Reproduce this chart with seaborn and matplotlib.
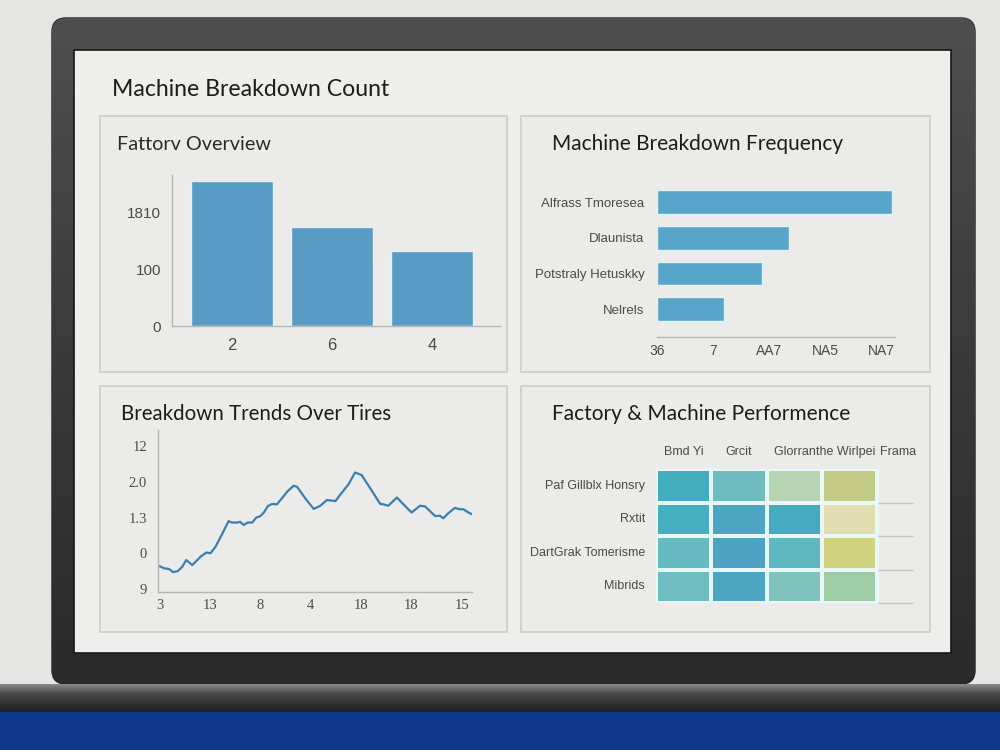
import numpy as np
import pandas as pd
import matplotlib
matplotlib.use("Agg")
import matplotlib.pyplot as plt
import seaborn as sns
from matplotlib.patches import FancyBboxPatch, Rectangle
from matplotlib.colors import LinearSegmentedColormap

# ---------------- data ----------------
main_title = "Machine Breakdown Count"

overview_title = "Fattorv Overview"
overview_labels = ["2", "6", "4"]
overview_values = [254, 174, 132]
overview_yticks = [0, 100, 200]
overview_yticklabels = ["0", "100", "1810"]

freq_title = "Machine Breakdown Frequency"
freq_labels = ["Alfrass Tmoresea", "Dlaunista", "Potstraly Hetuskky", "Nelrels"]
freq_values = [4.2, 2.36, 1.88, 1.2]
freq_xticks = [0, 1, 2, 3, 4]
freq_xticklabels = ["36", "7", "AA7", "NA5", "NA7"]

trend_title = "Breakdown Trends Over Tires"
trend_x = [0.0, 0.09, 0.19, 0.27, 0.36, 0.45, 0.53, 0.65, 0.75, 0.81, 0.93, 1.01,
           1.11, 1.24, 1.37, 1.44, 1.54, 1.60, 1.67, 1.75, 1.84, 1.92, 2.00, 2.07,
           2.15, 2.23, 2.33, 2.43, 2.53, 2.66, 2.73, 2.89, 3.06, 3.19, 3.32, 3.49,
           3.58, 3.75, 3.88, 4.01, 4.18, 4.38, 4.44, 4.54, 4.71, 4.84, 5.00, 5.17,
           5.27, 5.47, 5.56, 5.63, 5.73, 5.86, 5.96, 6.03, 6.13, 6.26]
trend_y = [0.64, 0.58, 0.56, 0.47, 0.50, 0.62, 0.81, 0.67, 0.81, 0.90, 1.02, 1.00,
           1.18, 1.53, 1.90, 1.86, 1.86, 1.88, 1.79, 1.86, 1.86, 2.00, 2.04, 2.14,
           2.32, 2.38, 2.37, 2.54, 2.72, 2.89, 2.86, 2.54, 2.24, 2.33, 2.49, 2.46,
           2.63, 2.93, 3.26, 3.19, 2.82, 2.38, 2.37, 2.33, 2.56, 2.37, 2.14, 2.33,
           2.31, 2.04, 2.05, 1.98, 2.12, 2.27, 2.23, 2.23, 2.14, 2.05]
trend_xticks = [0, 1, 2, 3, 4, 5, 6]
trend_xticklabels = ["3", "13", "8", "4", "18", "18", "15"]
trend_yticks = [0, 1, 2, 3, 4]
trend_yticklabels = ["9", "0", "1.3", "2.0", "12"]

perf_title = "Factory & Machine Performence"
perf_rows = ["Paf Gillblx Honsry", "Rxtit", "DartGrak Tomerisme", "Mibrids"]
perf_cols = ["Bmd Yi", "Grcit", "Glorranthe Wirlpei", "Frama"]
perf_c1 = [0.15, 0.16, 0.32, 0.36]
perf_c2 = [0.35, 0.03, 0.00, 0.05]
perf_c3 = [0.72, 0.12, 0.28, 0.50]
perf_c4 = [0.82, 1.00, 0.90, 0.62]

# ---------------- style ----------------
sns.set_style("white")
plt.rcParams["font.family"] = ["Liberation Sans", "DejaVu Sans"]

BG = "#e5e5e3"
SCREEN = "#eeeeec"
PANEL = "#ebebe9"
PANEL_EDGE = "#cfcfcd"
TITLE_C = "#1c1c1c"
TICK_C = "#4a4a4a"
SPINE_C = "#b5b5b5"
BAR1 = "#589cc3"
BAR2 = "#57a5c8"
LINE_C = "#3a7fb2"

fig = plt.figure(figsize=(10, 7.5), dpi=100)
fig.patch.set_facecolor(BG)


def px(x0, y0, x1, y1):
    return [x0 / 1000, 1 - y1 / 750, (x1 - x0) / 1000, (y1 - y0) / 750]


# ---------------- monitor backdrop ----------------
bg = fig.add_axes([0, 0, 1, 1], zorder=0)
bg.set_facecolor(BG)
bezel = FancyBboxPatch((52, 18), 923, 666, boxstyle="round,pad=0,rounding_size=14",
                       facecolor="#3c3c3c", edgecolor="#1e1e1e", lw=1)
bg.add_patch(bezel)
grad = np.linspace(0, 1, 256).reshape(-1, 1)
bez_cmap = LinearSegmentedColormap.from_list("bez", ["#4f4f4f", "#3a3a3a", "#2a2a2a"])
im = bg.imshow(grad, extent=(52, 975, 684, 18), cmap=bez_cmap, aspect="auto", zorder=2)
im.set_clip_path(bezel)
bg.add_patch(Rectangle((74, 50), 877, 603, facecolor=SCREEN, edgecolor="#161616", lw=1.2, zorder=3))
# base / desk
stand_cmap = LinearSegmentedColormap.from_list("stand", ["#8c8c8c", "#4a4a4a", "#333333", "#1f1f1f"])
bg.imshow(grad, extent=(0, 1000, 712, 684), cmap=stand_cmap, aspect="auto", zorder=2)
bg.add_patch(Rectangle((0, 712), 1000, 38, facecolor="#0c3a88", edgecolor="none", zorder=2))
# panels
for (x0, y0, x1, y1) in [(100, 116, 507, 372), (521, 116, 930, 372),
                         (100, 386, 507, 632), (521, 386, 930, 632)]:
    bg.add_patch(Rectangle((x0, y0), x1 - x0, y1 - y0, facecolor=PANEL,
                           edgecolor=PANEL_EDGE, lw=1.3, zorder=4))
bg.set_xlim(0, 1000)
bg.set_ylim(750, 0)
bg.axis("off")

# titles
tfont = ["Lato", "DejaVu Sans"]
fig.text(0.112, 1 - 89 / 750, main_title, fontsize=16.6, color=TITLE_C, va="center", family=tfont)
fig.text(0.117, 1 - 145 / 750, overview_title, fontsize=14.3, color="#2a2a2a", va="center", family=tfont)
fig.text(0.552, 1 - 144 / 750, freq_title, fontsize=15, color=TITLE_C, va="center", family=tfont)
fig.text(0.121, 1 - 414 / 750, trend_title, fontsize=14.8, color=TITLE_C, va="center", family=tfont)
fig.text(0.552, 1 - 414 / 750, perf_title, fontsize=15, color=TITLE_C, va="center", family=tfont)


def clean(ax, spines=("left", "bottom")):
    ax.set_facecolor("none")
    for s in ["left", "right", "top", "bottom"]:
        ax.spines[s].set_visible(s in spines)
        ax.spines[s].set_color(SPINE_C)
        ax.spines[s].set_linewidth(1.0)
    ax.tick_params(length=0, colors=TICK_C)
    ax.set_xlabel("")
    ax.set_ylabel("")


# ---------------- panel 1: vertical bars ----------------
ax1 = fig.add_axes(px(172, 175, 500, 326), zorder=5)
sns.barplot(x=overview_labels, y=overview_values, ax=ax1, color=BAR1, width=0.82,
            saturation=1, edgecolor="#e2f1f7", linewidth=1)
ax1.set_xlim(-0.6, 2.68)
ax1.set_ylim(0, 265)
ax1.set_yticks(overview_yticks)
ax1.set_yticklabels(overview_yticklabels)
clean(ax1)
ax1.tick_params(axis="y", pad=8, labelsize=11)
ax1.tick_params(axis="x", pad=9, labelsize=12)

# ---------------- panel 2: horizontal bars ----------------
ax2 = fig.add_axes(px(657, 180, 895, 337), zorder=5)
sns.barplot(x=freq_values, y=freq_labels, orient="h", ax=ax2, color=BAR2, width=0.67,
            saturation=1, edgecolor="#e2f1f7", linewidth=1)
ax2.set_xlim(0, 4.25)
ax2.set_ylim(3.78, -0.62)
ax2.set_xticks(freq_xticks)
ax2.set_xticklabels(freq_xticklabels)
clean(ax2, spines=("bottom",))
ax2.tick_params(axis="y", pad=9, labelsize=9.5)
ax2.tick_params(axis="x", pad=5, labelsize=10)

# ---------------- panel 3: line ----------------
ax3 = fig.add_axes(px(158, 430, 472, 592), zorder=5)
sns.lineplot(x=trend_x, y=trend_y, ax=ax3, color=LINE_C, linewidth=1.6)
ax3.set_xlim(-0.03, 6.2)
ax3.set_ylim(-0.084, 4.45)
ax3.set_xticks(trend_xticks)
ax3.set_xticklabels(trend_xticklabels, family=["Liberation Serif", "DejaVu Serif"])
ax3.set_yticks(trend_yticks)
ax3.set_yticklabels(trend_yticklabels, family=["Liberation Serif", "DejaVu Serif"])
clean(ax3)
ax3.tick_params(axis="y", pad=8, labelsize=10.5)
ax3.tick_params(axis="x", pad=5, labelsize=10.5)

# ---------------- panel 4: heatmap ----------------
perf_df = pd.DataFrame({perf_cols[0]: perf_c1, perf_cols[1]: perf_c2,
                        perf_cols[2]: perf_c3, perf_cols[3]: perf_c4},
                       index=perf_rows)
perf_cmap = LinearSegmentedColormap.from_list(
    "perf",
    [(0.0, "#4fa3c2"), (0.15, "#44adc0"), (0.35, "#6ebcc0"), (0.5, "#7fc3bd"),
     (0.62, "#9ecca4"), (0.72, "#b6d6b4"), (0.82, "#c3cc86"), (0.9, "#d0d27e"),
     (1.0, "#e2ddb0")])
ax4 = fig.add_axes(px(656, 469, 913, 603), zorder=5)
sns.heatmap(perf_df, ax=ax4, cmap=perf_cmap, vmin=0, vmax=1, cbar=False,
            linewidths=1.5, linecolor="#eaf7f9")
ax4.set_xlim(0, 4.65)
ax4.set_ylim(4, 0)
ax4.xaxis.tick_top()
ax4.set_xticks([0.5, 1.5, 3.05, 4.38])
ax4.set_xticklabels(perf_cols, rotation=0)
ax4.set_yticklabels(perf_rows, rotation=0)
ax4.hlines([1, 2, 3, 4], 4.02, 4.65, color="#c4c4c4", lw=1.0, clip_on=False)
clean(ax4, spines=())
ax4.tick_params(axis="y", pad=8, labelsize=9)
ax4.tick_params(axis="x", pad=8, labelsize=9)

fig.savefig("out.png", dpi=100, facecolor=BG)
